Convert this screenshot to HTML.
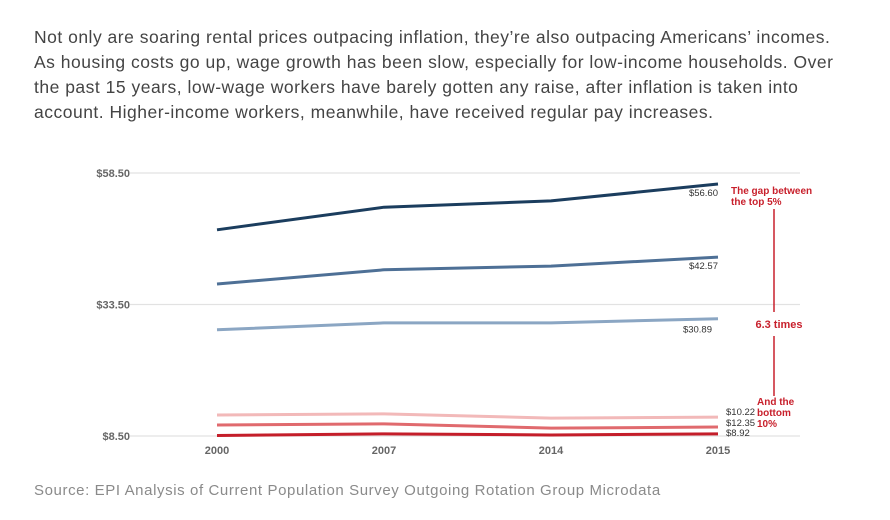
<!DOCTYPE html>
<html><head><meta charset="utf-8">
<style>
body{margin:0;background:#fff;width:890px;height:520px;overflow:hidden;font-family:"Liberation Sans",sans-serif;}
#intro{position:absolute;left:34px;top:25px;color:#444;font-size:17.5px;letter-spacing:0.5px;line-height:25px;}
#intro div{white-space:nowrap;}
#src{position:absolute;left:34px;top:482px;color:#8a8a8a;font-size:15px;letter-spacing:0.6px;white-space:nowrap;}
svg{position:absolute;left:0;top:0;}
</style></head><body>
<div id="intro">
<div>Not only are soaring rental prices outpacing inflation, they’re also outpacing Americans’ incomes.</div>
<div>As housing costs go up, wage growth has been slow, especially for low-income households. Over</div>
<div>the past 15 years, low-wage workers have barely gotten any raise, after inflation is taken into</div>
<div>account. Higher-income workers, meanwhile, have received regular pay increases.</div>
</div>
<svg id="chart" width="890" height="520"></svg>
<div id="src">Source: EPI Analysis of Current Population Survey Outgoing Rotation Group Microdata</div>
<script>
const categories = ["2000","2007","2014","2015"];
const yTicks = [8.5, 33.5, 58.5];
const yTickLabels = ["$8.50","$33.50","$58.50"];
const top5 = [47.7, 52.0, 53.2, 56.4];
const second = [37.4, 40.1, 40.8, 42.5];
const third = [28.7, 30.0, 30.0, 30.8];
const redLight = [12.5, 12.7, 11.9, 12.1];
const redMid = [10.6, 10.8, 10.0, 10.2];
const redDark = [8.6, 8.9, 8.7, 8.9];
const endLabels = ["$56.60","$42.57","$30.89","$10.22","$12.35","$8.92"];

const svg = document.getElementById('chart');
const NS = 'http://www.w3.org/2000/svg';
const x0 = 217, x1 = 718;
function xs(i){ return x0 + i*(x1-x0)/(categories.length-1); }
function ys(v){ return 436 - (v-8.5)*(436-173)/(58.5-8.5); }
function mk(tag, attrs){ const e=document.createElementNS(NS,tag); for(const k in attrs) e.setAttribute(k,attrs[k]); svg.appendChild(e); return e; }

yTicks.forEach((t,i)=>{
  const g = mk('line',{x1:130,x2:800,y1:ys(t),y2:ys(t),stroke:'#e2e2e2','stroke-width':1.2});
  
  
  const l = mk('text',{x:130,y:ys(t)+4,'text-anchor':'end','font-size':11,'font-weight':'bold',fill:'#666'});
  l.textContent = yTickLabels[i];
  
  
});
categories.forEach((c,i)=>{
  const l = mk('text',{x:xs(i),y:454,'text-anchor':'middle','font-size':11,'font-weight':'bold',fill:'#666'});
  l.textContent = c;
  
  
});
const series = [
  [top5,'#1b3d5e','top-5-line'],[second,'#4e7096','second-line'],[third,'#8ba6c3','third-line'],
  [redLight,'#f2b9b9','red-light-line'],[redMid,'#e06a6e','red-mid-line'],[redDark,'#c41e2a','red-dark-line']];
series.forEach(([d,c,n])=>{
  const p = mk('polyline',{points:d.map((v,i)=>xs(i)+','+ys(v)).join(' '),fill:'none',stroke:c,'stroke-width':3,'stroke-linejoin':'round'});
  
  
});
const lastI = categories.length-1;
[[0,top5,'end',0,12],[1,second,'end',0,12],[2,third,'end',-6,14]].forEach(([k,d,a,dx,dy])=>{
  const t = mk('text',{x:xs(lastI)+dx,y:ys(d[lastI])+dy,'text-anchor':a,'font-size':9.5,fill:'#333'});
  t.textContent = endLabels[k];
  
  
});
[[3,415],[4,426],[5,436]].forEach(([k,yy])=>{
  const t = mk('text',{x:xs(lastI)+8,y:yy,'font-size':9.5,fill:'#333'});
  t.textContent = endLabels[k];
  
  
});
function ann(txt,x,y,anchor,size){
  const t = mk('text',{x:x,y:y,'text-anchor':anchor||'start','font-size':size||10,'font-weight':'bold',fill:'#c8202c'});
  t.textContent = txt;
  
  
}
ann('The gap between',731,194);
ann('the top 5%',731,205);
ann('6.3 times',779,328,'middle',11);
ann('And the',757,405);
ann('bottom',757,416);
ann('10%',757,427);
[[209,312],[336,396]].forEach(([a,b])=>{
  const l = mk('line',{x1:774,x2:774,y1:a,y2:b,stroke:'#c8202c','stroke-width':1.5});
  
  
});
</script>
</body></html>
